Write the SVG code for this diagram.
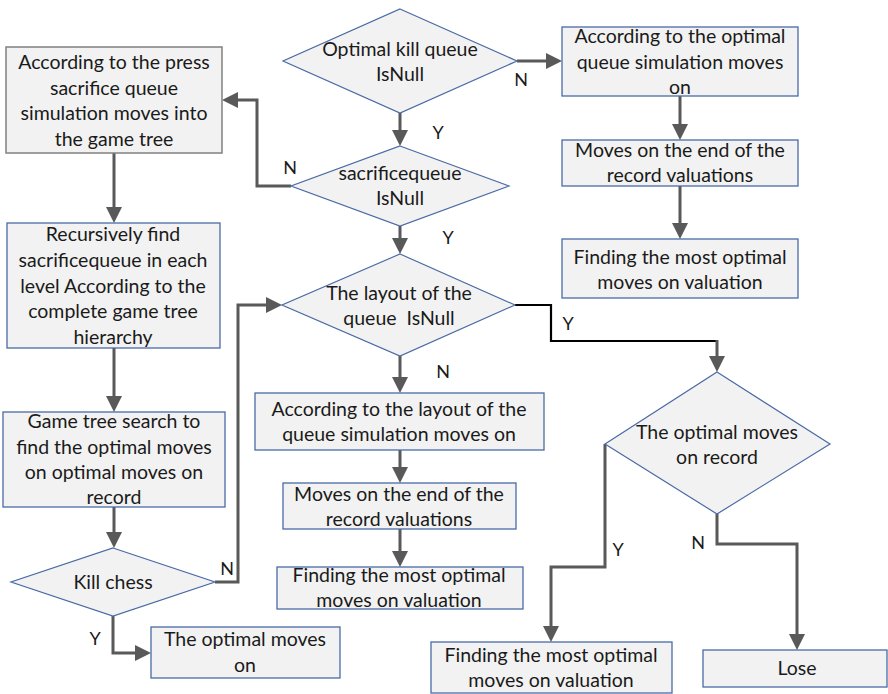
<svg xmlns="http://www.w3.org/2000/svg" width="888" height="694" viewBox="0 0 888 694">
<style>
.box{fill:#f2f2f2;stroke:#4a6aa5;stroke-width:1.3}
.gbox{fill:#f2f2f2;stroke:#808080;stroke-width:1.5}
.dia{fill:#f2f2f2;stroke:#4a6aa5;stroke-width:1.2}
text{font-family:Lato,"Liberation Sans",sans-serif;font-size:19.5px;fill:#1a1a1a;text-anchor:middle}
.lbl{font-size:18px;text-anchor:middle}
.c{fill:none;stroke:#595959;stroke-width:3;marker-end:url(#ah)}
.k{fill:none;stroke:#000;stroke-width:2.2}
</style>
<defs>
<marker id="ah" markerUnits="userSpaceOnUse" markerWidth="18" markerHeight="18" viewBox="0 0 18 18" refX="8" refY="9" orient="auto">
<path d="M0,1 L16,9 L0,17 z" fill="#595959"/>
</marker>
</defs>
<g id="connectors">
<path class="c" d="M517,61 H554"/>
<path class="c" d="M400,113 V138"/>
<path class="c" d="M291,186 H257 V100 H230"/>
<path class="c" d="M400,226 V246"/>
<path class="c" d="M114,153 V215"/>
<path class="c" d="M114,348 V404"/>
<path class="c" d="M114,507 V540"/>
<path class="c" d="M215,582 H238 V305 H274"/>
<path class="c" d="M113,616 V653 H143"/>
<path class="c" d="M400,356 V385"/>
<path class="c" d="M400,450 V475"/>
<path class="c" d="M400,529 V559"/>
<path class="k" d="M515,305 H551 V341 H718"/>
<path class="c" d="M717,340 V364"/>
<path class="c" d="M605,444 V567 H551 V634"/>
<path class="c" d="M717,514 V544 H797 V642"/>
<path class="c" d="M680,96 V132"/>
<path class="c" d="M680,186 V231"/>
<text class="lbl" x="521" y="86">N</text>
<text class="lbl" x="438" y="139">Y</text>
<text class="lbl" x="290" y="174">N</text>
<text class="lbl" x="448" y="244">Y</text>
<text class="lbl" x="568" y="330">Y</text>
<text class="lbl" x="443" y="378">N</text>
<text class="lbl" x="227" y="575">N</text>
<text class="lbl" x="95" y="645">Y</text>
<text class="lbl" x="618" y="556">Y</text>
<text class="lbl" x="698" y="549">N</text>
</g>
<g id="n1">
<rect class="gbox" x="6" y="47" width="216" height="106"/>
<text x="114" y="69">According to the press</text>
<text x="114" y="94.5">sacrifice queue</text>
<text x="114" y="120">simulation moves into</text>
<text x="114" y="145.5">the game tree</text>
</g>
<g id="d1">
<polygon class="dia" points="400,9 517,61 400,113 283,61"/>
<text x="400" y="56">Optimal kill queue</text>
<text x="400" y="81">IsNull</text>
</g>
<g id="n2">
<rect class="box" x="562" y="27" width="236" height="69"/>
<text x="680" y="43">According to the optimal</text>
<text x="680" y="69">queue simulation moves</text>
<text x="680" y="94">on</text>
</g>
<g id="n3">
<rect class="box" x="562" y="140" width="236" height="46"/>
<text x="680" y="157">Moves on the end of the</text>
<text x="680" y="182">record valuations</text>
</g>
<g id="n4">
<rect class="box" x="562" y="239" width="236" height="59"/>
<text x="680" y="264">Finding the most optimal</text>
<text x="680" y="289">moves on valuation</text>
</g>
<g id="d2">
<polygon class="dia" points="400,146 509,186 400,226 291,186"/>
<text x="400" y="180">sacrificequeue</text>
<text x="400" y="205">IsNull</text>
</g>
<g id="n5">
<rect class="box" x="7" y="223" width="213" height="125"/>
<text x="113" y="241">Recursively find</text>
<text x="113" y="267">sacrificequeue in each</text>
<text x="113" y="293">level According to the</text>
<text x="113" y="318">complete game tree</text>
<text x="113" y="344">hierarchy</text>
</g>
<g id="n6">
<rect class="box" x="3" y="412" width="222" height="95"/>
<text x="114" y="428">Game tree search to</text>
<text x="114" y="454">find the optimal moves</text>
<text x="114" y="479">on optimal moves on</text>
<text x="114" y="504">record</text>
</g>
<g id="d3">
<polygon class="dia" points="400,254 515,305 400,356 282,305"/>
<text x="399" y="300">The layout of the</text>
<text x="399" y="325" xml:space="preserve">queue  IsNull</text>
</g>
<g id="n8">
<rect class="box" x="255" y="393" width="289" height="57"/>
<text x="399" y="416">According to the layout of the</text>
<text x="399" y="441">queue simulation moves on</text>
</g>
<g id="n9">
<rect class="box" x="283" y="483" width="233" height="46"/>
<text x="399" y="501">Moves on the end of the</text>
<text x="399" y="526">record valuations</text>
</g>
<g id="n10">
<rect class="box" x="277" y="567" width="246" height="42"/>
<text x="399" y="582">Finding the most optimal</text>
<text x="399" y="607">moves on valuation</text>
</g>
<g id="d4">
<polygon class="dia" points="113,548 215,582 113,616 11,582"/>
<text x="113" y="589">Kill chess</text>
</g>
<g id="n7">
<rect class="box" x="151" y="627" width="189" height="51"/>
<text x="245" y="646">The optimal moves</text>
<text x="245" y="672">on</text>
</g>
<g id="d5">
<polygon class="dia" points="717,372 830,444 717,514 605,444"/>
<text x="717" y="439">The optimal moves</text>
<text x="717" y="464">on record</text>
</g>
<g id="n11">
<rect class="box" x="431" y="642" width="241" height="51"/>
<text x="551" y="662">Finding the most optimal</text>
<text x="551" y="687">moves on valuation</text>
</g>
<g id="n12">
<rect class="box" x="703" y="650" width="184" height="37"/>
<text x="797" y="675">Lose</text>
</g>
</svg>
